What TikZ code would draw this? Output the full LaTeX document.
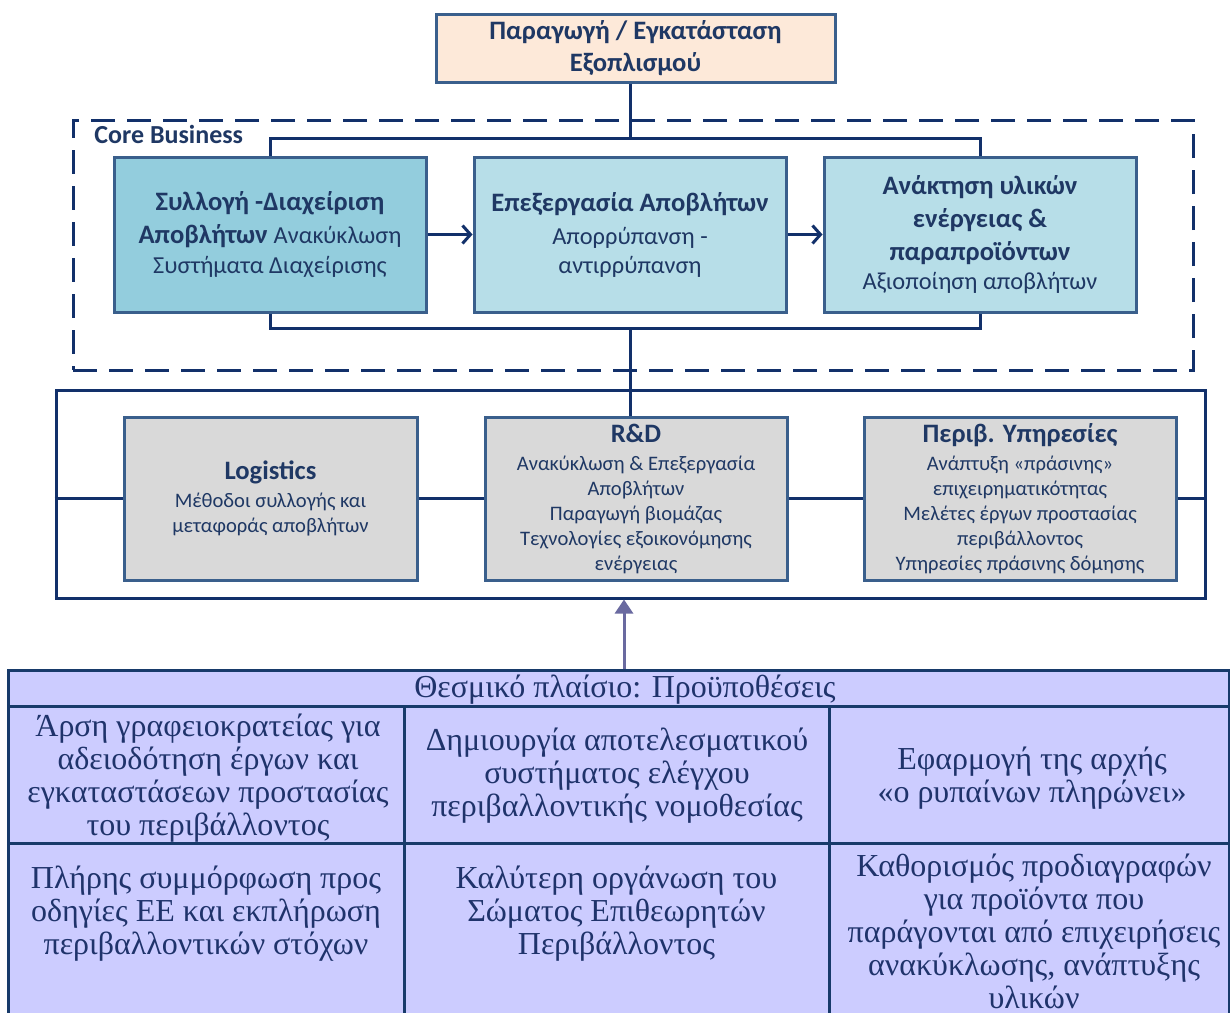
\documentclass[tikz,border=0pt]{standalone}
\usepackage{fontspec}
\setmainfont{Carlito}
\newfontfamily\tnr{Liberation Serif}
\usetikzlibrary{arrows.meta}
\definecolor{navy}{HTML}{1F3864}
\definecolor{lnavy}{HTML}{12306A}
\definecolor{bord}{HTML}{3A5F8C}
\definecolor{tealA}{HTML}{93CDDD}
\definecolor{tealB}{HTML}{B7DEE8}
\definecolor{peach}{HTML}{FDE9D9}
\definecolor{grayb}{HTML}{D9D9D9}
\definecolor{lav}{HTML}{CCCCFF}
\definecolor{tabline}{HTML}{173A6A}
\definecolor{tabtext}{HTML}{1F336B}
\definecolor{arrowc}{HTML}{6A6AA0}
\tikzset{
  boxbase/.style={draw=bord, line width=1.5pt, text=navy, align=center, inner sep=0pt},
  topbox/.style={boxbase, fill=peach, font=\fontsize{13.3}{16}\selectfont\bfseries},
  corebox/.style={boxbase, minimum width=156pt, minimum height=77.5pt, font=\fontsize{13.3}{16.5}\selectfont},
  graybox/.style={boxbase, fill=grayb, minimum height=81.5pt, font=\fontsize{10.3}{12.5}\selectfont},
  conn/.style={draw=lnavy, line width=1.5pt},
  dashbox/.style={draw=lnavy, line width=1.5pt, dash pattern=on 12pt off 6pt, inner sep=0pt},
  cell/.style={draw=tabline, line width=1.5pt, fill=lav, inner sep=0pt},
  celltext/.style={align=center, text=tabtext, inner sep=0pt, font=\tnr\fontsize{16}{16.5}\selectfont},
  barb/.style={-{Straight Barb[length=4pt,width=9pt,line width=1.5pt]}},
  uparrow/.style={draw=arrowc, line width=1.5pt, -{Triangle[length=7pt,width=9pt]}}
}
\newcommand{\subsz}{\fontsize{12.2}{14}\selectfont}
\newcommand{\grtitle}{\fontsize{13.3}{14}\selectfont\bfseries}
\begin{document}
\begin{tikzpicture}[x=0.5pt,y=-0.5pt]
\clip (0,0) rectangle (1230,1012);
\fill[white] (0,0) rectangle (1230,1012);

% top box
\node[topbox, minimum width=199.5pt, minimum height=34pt] (top) at (635.5,48) {Παραγωγή / Εγκατάσταση\\Εξοπλισμού};

% core business dashed frame
\node[dashbox, minimum width=560pt, minimum height=125pt] (core) at (633,245) {};
\node[anchor=west, text=navy, inner sep=0pt, font=\fontsize{13}{14}\selectfont\bfseries] (corelbl) at (94,134) {Core Business};

% core boxes
\node[corebox, fill=tealA] (b1) at (270,234.5) {{\bfseries Συλλογή -Διαχείριση}\\{\bfseries Αποβλήτων} {\subsz Ανακύκλωση}\\[-1.5pt]{\subsz Συστήματα Διαχείρισης}};
\node[corebox, fill=tealB] (b2) at (630,234.5) {{\bfseries Επεξεργασία Αποβλήτων}\\{\subsz Απορρύπανση -}\\[-2pt]{\subsz αντιρρύπανση}};
\node[corebox, fill=tealB] (b3) at (980,234.5) {{\bfseries Ανάκτηση υλικών}\\{\bfseries ενέργειας \&}\\{\bfseries παραπροϊόντων}\\[-2pt]{\subsz Αξιοποίηση αποβλήτων}};

\draw[conn, barb] (b1) -- (b2);
\draw[conn, barb] (b2) -- (b3);

\coordinate (ctop) at (630,138);
\coordinate (cbot) at (630,328);
\draw[conn] (ctop |- top.south) -- (ctop);
\draw[conn] (b1.north) |- (ctop) -| (b3.north);
\draw[conn] (b1.south) |- (cbot) -| (b3.south);

% support frame
\node[draw=lnavy, line width=1.5pt, inner sep=0pt, minimum width=574.5pt, minimum height=104pt] (sup) at (630.5,494) {};

\node[graybox, minimum width=146.5pt] (log) at (270.5,498.5) {{\grtitle Logistics}\\[1.5pt]Μέθοδοι συλλογής και\\μεταφοράς αποβλήτων};
\node[graybox, minimum width=151pt] (rd) at (636,498.5) {{\grtitle R\&D}\\[1.5pt]Ανακύκλωση \& Επεξεργασία\\Αποβλήτων\\Παραγωγή βιομάζας\\Τεχνολογίες εξοικονόμησης\\ενέργειας};
\node[graybox, minimum width=156pt] (env) at (1020,498.5) {{\grtitle Περιβ. Υπηρεσίες}\\[1.5pt]Ανάπτυξη «πράσινης»\\επιχειρηματικότητας\\Μελέτες έργων προστασίας\\περιβάλλοντος\\Υπηρεσίες πράσινης δόμησης};

\draw[conn] (cbot) -- (cbot |- rd.north);
\draw[conn] (sup.west |- log.west) -- (log.west);
\draw[conn] (log.east) -- (rd.west |- log.east);
\draw[conn] (rd.east) -- (env.west |- rd.east);
\draw[conn] (env.east) -- (sup.east |- env.east);

% table
\node[cell, minimum width=610.5pt, minimum height=18pt] (hdr) at (618.5,688) {};
\node[cell, minimum width=198pt, minimum height=68.5pt] (c11) at (206,774.5) {};
\node[cell, minimum width=212.5pt, minimum height=68.5pt] (c12) at (616.5,774.5) {};
\node[cell, minimum width=200pt, minimum height=68.5pt] (c13) at (1029,774.5) {};
\node[cell, minimum width=198pt, minimum height=93.5pt] (c21) at (206,936.5) {};
\node[cell, minimum width=212.5pt, minimum height=93.5pt] (c22) at (616.5,936.5) {};
\node[cell, minimum width=200pt, minimum height=93.5pt] (c23) at (1029,936.5) {};

\node[celltext] (hdrt) at (625,690) {Θεσμικό πλαίσιο: Προϋποθέσεις};
\node[celltext] (t11) at (208,778) {Άρση γραφειοκρατείας για\\αδειοδότηση έργων και\\εγκαταστάσεων προστασίας\\του περιβάλλοντος};
\node[celltext] (t12) at (617,776) {Δημιουργία αποτελεσματικού\\συστήματος ελέγχου\\περιβαλλοντικής νομοθεσίας};
\node[celltext] (t13) at (1032,778) {Εφαρμογή της αρχής\\«ο ρυπαίνων πληρώνει»};
\node[celltext] (t21) at (206,914) {Πλήρης συμμόρφωση προς\\οδηγίες ΕΕ και εκπλήρωση\\περιβαλλοντικών στόχων};
\node[celltext] (t22) at (616.5,914) {Καλύτερη οργάνωση του\\Σώματος Επιθεωρητών\\Περιβάλλοντος};
\node[celltext] (t23) at (1034,931) {Καθορισμός προδιαγραφών\\για προϊόντα που\\παράγονται από επιχειρήσεις\\ανακύκλωσης, ανάπτυξης\\υλικών};

\coordinate (arrx) at (624,640);
\draw[uparrow] (hdr.north -| arrx) -- (sup.south -| arrx);
\end{tikzpicture}
\end{document}
